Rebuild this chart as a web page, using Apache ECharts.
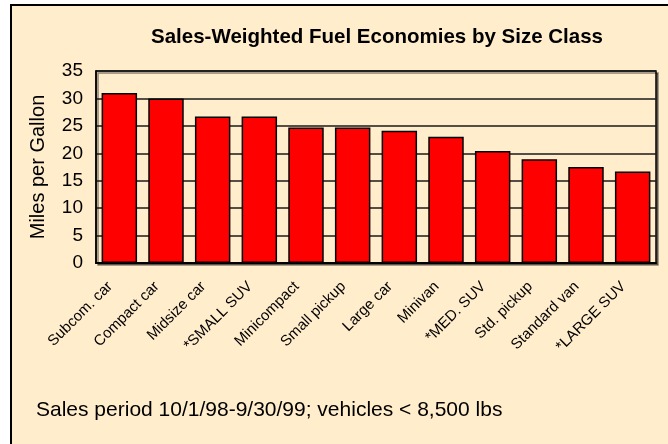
<!DOCTYPE html>
<html>
<head>
<meta charset="utf-8">
<script src="https://cdn.jsdelivr.net/npm/echarts@6/dist/echarts.min.js"></script>
<style>
  html, body { margin: 0; padding: 0; background: #fff; }
  #chart { width: 668px; height: 444px; }
</style>
</head>
<body>
<div id="chart"></div>
<script>
// size classes, left to right
const categories = [
  "Subcom. car", "Compact car", "Midsize car", "*SMALL SUV", "Minicompact",
  "Small pickup", "Large car", "Minivan", "*MED. SUV", "Std. pickup",
  "Standard van", "*LARGE SUV"
];
// sales-weighted mpg
const mpg = [31.0, 30.0, 26.7, 26.7, 24.7, 24.7, 24.1, 23.0, 20.4, 18.9, 17.5, 16.7];
const yTicks = [0, 5, 10, 15, 20, 25, 30, 35];

const title = "Sales-Weighted Fuel Economies by Size Class";
const note = "Sales period 10/1/98-9/30/99; vehicles < 8,500 lbs";

const font = "'Liberation Sans', Arial, sans-serif";
const bg = "#FFEDCC";

const chart = echarts.init(document.getElementById("chart"));

const option = {
  backgroundColor: "#fff",
  animation: false,
  graphic: [
    {
      type: "rect",
      z: -10,
      shape: { x: 11, y: 5, width: 700, height: 500 },
      style: { fill: bg, stroke: "#000", lineWidth: 2 }
    },
    {
      type: "text",
      left: 36,
      top: 400,
      style: { text: note, font: "21px " + font, fill: "#000", letterSpacing: 0.6 }
    }
  ],
  title: {
    text: title,
    left: 372,
    top: 22,
    textAlign: "center",
    textStyle: { fontFamily: font, fontSize: 20.5, fontWeight: "bold", color: "#000" }
  },
  grid: {
    left: 96,
    top: 71,
    right: 12,
    bottom: 181,
    show: true,
    backgroundColor: bg,
    borderColor: "#000",
    borderWidth: 1.5,
    shadowColor: "rgba(0,0,0,0.45)",
    shadowOffsetX: 2,
    shadowOffsetY: 2,
    shadowBlur: 0
  },
  xAxis: {
    type: "category",
    data: categories,
    axisLine: { show: true, lineStyle: { color: "#000", width: 2 } },
    axisTick: { show: false },
    axisLabel: {
      rotate: 45,
      interval: 0,
      margin: 12,
      padding: [0, 13, 0, 0],
      fontFamily: font,
      fontSize: 15,
      letterSpacing: -0.6,
      color: "#000"
    }
  },
  yAxis: {
    type: "value",
    min: yTicks[0],
    max: yTicks[yTicks.length - 1],
    interval: 5,
    name: "Miles per Gallon",
    nameLocation: "middle",
    nameGap: 48,
    nameTextStyle: { fontFamily: font, fontSize: 20, color: "#000" },
    axisLine: { show: true, lineStyle: { color: "#000", width: 1.5 } },
    axisTick: { show: false },
    axisLabel: { margin: 13, fontFamily: font, fontSize: 19, color: "#000" },
    splitLine: { show: true, lineStyle: { color: "#1a1a1a", width: 1.5 } }
  },
  series: [
    {
      type: "bar",
      data: mpg,
      barCategoryGap: "24%",
      itemStyle: { color: "#FF0000", borderColor: "#000", borderWidth: 1.5 }
    }
  ]
};

chart.setOption(option);
</script>
</body>
</html>
